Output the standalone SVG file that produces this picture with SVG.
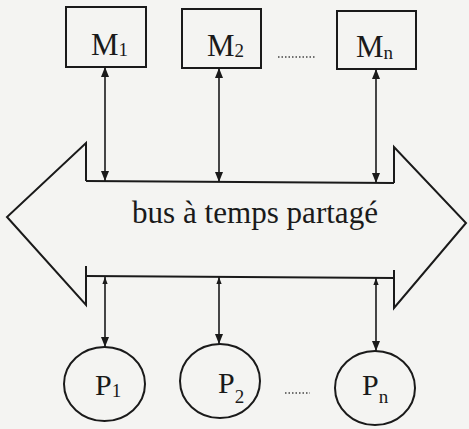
<svg xmlns="http://www.w3.org/2000/svg" width="469" height="429" viewBox="0 0 469 429">
<defs>
<style>
.shape{fill:none;stroke:#1a1a1a;stroke-width:2;stroke-linejoin:miter}
.box{fill:none;stroke:#1a1a1a;stroke-width:2}
.ln{fill:none;stroke:#1a1a1a;stroke-width:1.6}
.t{font-family:'Liberation Serif','DejaVu Serif','Times New Roman',serif;fill:#1a1a1a}
.dots{fill:none;stroke:#444;stroke-width:1.3;stroke-dasharray:1.5 2}
</style>
<marker id="ah" viewBox="0 0 10 8" refX="10" refY="4" markerWidth="10" markerHeight="8" markerUnits="userSpaceOnUse" orient="auto-start-reverse">
<path d="M0,0 L10,4 L0,8 Z" fill="#1a1a1a"/>
</marker>
<marker id="as" viewBox="0 0 8 6" refX="8" refY="3" markerWidth="7" markerHeight="6" markerUnits="userSpaceOnUse" orient="auto-start-reverse">
<path d="M0,0 L8,3 L0,6 Z" fill="#1a1a1a"/>
</marker>
</defs>
<rect width="469" height="429" fill="#f4f4f2"/>
<g id="bus">
<path class="shape" d="M86,181 L86,143 L7,217 L86,305 L86,266"/>
<path class="shape" d="M394,183 L394,147 L466,223 L394,308 L394,270"/>
<path class="shape" d="M86,181 L394,183"/>
<path class="shape" d="M86,276 L394,278"/>
<text class="t" font-family="Liberation Serif, DejaVu Serif, serif" x="132" y="223" font-size="32" textLength="246" lengthAdjust="spacingAndGlyphs">bus à temps partagé</text>
</g>
<g id="M1">
<rect class="box" x="66" y="7" width="80" height="60"/>
<text class="t" font-family="Liberation Serif, DejaVu Serif, serif" x="91" y="55" font-size="31">M<tspan font-size="19" dy="1">1</tspan></text>
</g>
<g id="M2">
<rect class="box" x="182" y="9" width="79" height="59"/>
<text class="t" font-family="Liberation Serif, DejaVu Serif, serif" x="207" y="56" font-size="31">M<tspan font-size="19" dy="1">2</tspan></text>
</g>
<g id="Mn">
<rect class="box" x="337" y="11" width="79" height="58"/>
<text class="t" font-family="Liberation Serif, DejaVu Serif, serif" x="356" y="57" font-size="31">M<tspan font-size="19" dy="2">n</tspan></text>
</g>
<g id="P1">
<ellipse class="box" cx="104.5" cy="384" rx="40.5" ry="37"/>
<text class="t" font-family="Liberation Serif, DejaVu Serif, serif" x="95" y="395" font-size="30">P<tspan font-size="19" dy="2">1</tspan></text>
</g>
<g id="P2">
<ellipse class="box" cx="220" cy="381" rx="40" ry="37"/>
<text class="t" font-family="Liberation Serif, DejaVu Serif, serif" x="218" y="393" font-size="30">P<tspan font-size="19" dy="10">2</tspan></text>
</g>
<g id="Pn">
<ellipse class="box" cx="375" cy="388" rx="40" ry="37"/>
<text class="t" font-family="Liberation Serif, DejaVu Serif, serif" x="362" y="395" font-size="30">P<tspan font-size="19" dy="8">n</tspan></text>
</g>
<g id="ellipsis">
<path class="dots" d="M278,57 L316,57"/>
<path class="dots" d="M285,393 L310,393"/>
</g>
<g id="connectors">
<path class="ln" d="M105,67 L105,181" marker-start="url(#ah)" marker-end="url(#ah)"/>
<path class="ln" d="M219,68 L219,182" marker-start="url(#ah)" marker-end="url(#ah)"/>
<path class="ln" d="M376,69 L376,183" marker-start="url(#ah)" marker-end="url(#ah)"/>
<path class="ln" d="M105,277 L105,347" marker-start="url(#as)" marker-end="url(#ah)"/>
<path class="ln" d="M219,277 L219,344" marker-start="url(#as)" marker-end="url(#ah)"/>
<path class="ln" d="M376,278 L376,351" marker-start="url(#as)" marker-end="url(#ah)"/>
</g>
</svg>
